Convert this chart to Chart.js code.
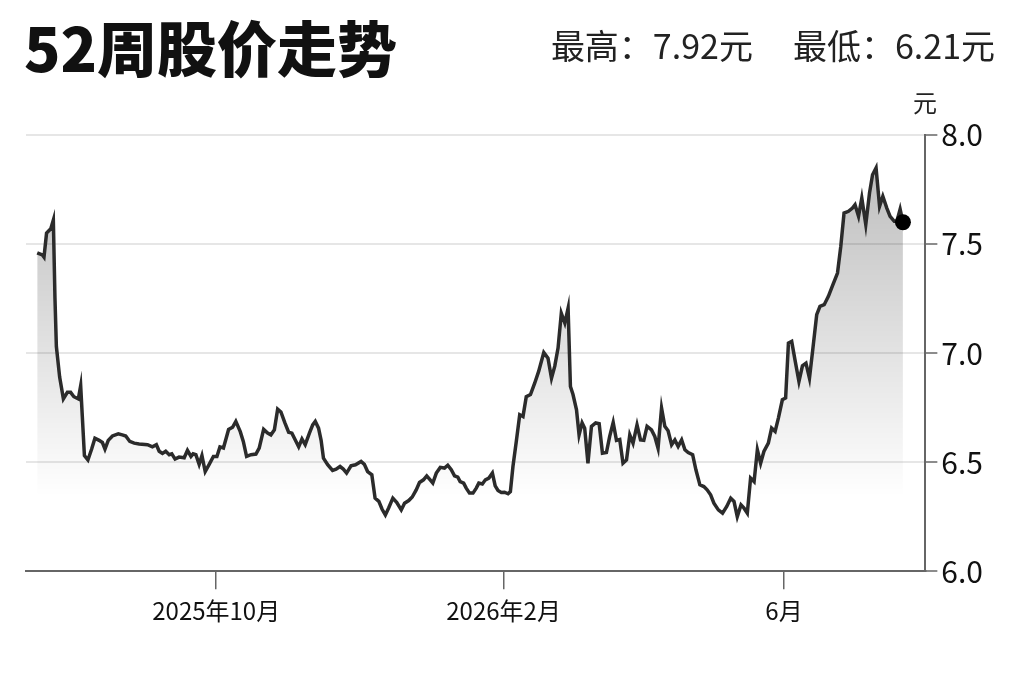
<!DOCTYPE html>
<html>
<head>
<meta charset="utf-8">
<script src="https://cdn.jsdelivr.net/npm/chart.js@4"></script>
<style>
  body { margin: 0; background: #fff; font-family: 'Noto Sans CJK SC', 'Noto Sans', sans-serif; }
  #wrap { position: relative; width: 1023px; height: 682px; }
  #wrap canvas { position: absolute; left: 0; top: 0; }
  .title { position: absolute; left: 24px; top: 16px; font-size: 60px; font-weight: 900; line-height: 1; color: #111; }
  .range { position: absolute; right: 28px; top: 28px; font-size: 34px; line-height: 1; color: #222; white-space: pre; }
  .range span + span { margin-left: 40px; }
  .unit { position: absolute; left: 913px; top: 90px; font-size: 24px; line-height: 1; color: #222; }
</style>
</head>
<body>
<div id="wrap">
  <canvas id="price-chart"></canvas>
  <div class="title">52周股价走势</div>
  <div class="range"><span>最高：7.92元</span><span>最低：6.21元</span></div>
  <div class="unit">元</div>
</div>
<script>
// days counted from 2025-10-01, closing price in 元
const days = [-76.6,-74.4,-73.7,-72.6,-70.8,-69.7,-69.0,-68.4,-67.0,-65.4,-63.7,-62.3,-60.9,-59.0,-58.0,-57.3,-56.4,-54.9,-53.3,-51.9,
  -50.1,-48.7,-47.6,-46.2,-44.4,-41.9,-40.2,-38.7,-37.0,-35.1,-33.0,-29.4,-27.3,-25.6,-24.4,-23.0,-21.6,-20.1,-19.0,-17.6,
  -15.9,-13.7,-12.3,-10.8,-9.9,-8.7,-7.3,-6.1,-4.7,-3.0,-1.2,0.3,1.6,3.1,5.3,7.0,8.4,10.3,11.6,13.0,
  14.9,17.0,18.4,20.3,22.0,23.4,24.9,26.3,27.7,29.4,31.0,32.4,33.9,35.3,36.7,38.1,39.9,41.3,42.4,43.8,
  44.9,45.9,47.7,49.8,51.3,53.0,54.4,55.8,57.7,59.6,62.0,63.4,64.8,66.6,68.0,69.6,71.0,72.4,73.8,75.6,
  77.3,79.2,80.6,82.4,83.9,85.6,87.0,88.7,90.1,91.3,92.7,94.2,95.9,97.7,99.1,100.6,102.0,103.4,104.4,105.9,
  107.0,108.4,109.9,111.3,112.4,113.9,115.2,116.7,118.2,119.4,120.6,122.0,123.4,124.9,125.9,127.0,128.5,129.9,131.3,132.7,
  134.5,136.3,138.0,140.2,142.0,143.5,144.9,146.3,147.7,149.2,150.6,151.6,152.7,154.2,155.3,156.6,157.7,159.1,160.6,162.4,
  163.9,165.3,167.0,168.4,169.9,171.3,172.7,
  174.1,175.6,177.0,178.4,180.1,181.6,183.0,184.4,186.3,187.7,189.1,190.6,192.0,193.4,194.9,196.3,197.7,199.2,200.6,202.0,
  203.9,205.3,207.0,208.7,210.1,211.6,213.0,214.9,216.7,218.5,220.2,221.6,223.0,224.6,225.9,227.3,228.7,230.2,231.6,233.0,
  234.4,236.3,237.7,239.2,240.6,242.3,243.7,244.9,246.3,247.7,249.4,250.9,252.4,253.9,255.3,257.0,258.4,260.2,262.0,263.9,
  265.9,267.3,268.7,270.6,272.3,273.4,274.9,276.3,278.0,279.6,280.9,282.4,283.9,285.3,287.0,288.4,290.2,291.3,292.7,293.9];

const prices = [7.46,7.45,7.44,7.55,7.57,7.61,7.25,7.03,6.89,6.79,6.82,6.82,6.80,6.79,6.85,6.71,6.53,6.51,6.56,6.61,
  6.60,6.59,6.56,6.60,6.62,6.63,6.625,6.62,6.595,6.587,6.583,6.58,6.57,6.58,6.55,6.54,6.55,6.534,6.538,6.514,
  6.523,6.52,6.554,6.526,6.538,6.534,6.49,6.53,6.457,6.49,6.526,6.526,6.57,6.565,6.65,6.66,6.687,6.64,6.595,6.526,
  6.534,6.537,6.564,6.65,6.633,6.625,6.648,6.743,6.73,6.68,6.637,6.633,6.60,6.57,6.606,6.58,6.633,6.671,6.687,6.656,
  6.60,6.518,6.488,6.462,6.468,6.48,6.468,6.45,6.483,6.488,6.503,6.49,6.457,6.442,6.335,6.32,6.284,6.258,6.29,6.335,
  6.315,6.281,6.312,6.324,6.34,6.373,6.407,6.419,6.437,6.422,6.404,6.45,6.476,6.473,6.486,6.465,6.437,6.431,6.411,6.404,
  6.381,6.358,6.358,6.381,6.404,6.40,6.419,6.427,6.45,6.391,6.37,6.361,6.362,6.355,6.365,6.48,6.60,6.717,6.709,6.80,
  6.81,6.862,6.916,7.003,6.977,6.885,6.94,7.023,7.183,7.138,7.206,6.847,6.81,6.74,6.625,6.68,6.656,6.495,6.664,6.68,
  6.676,6.541,6.544,6.618,6.682,6.60,6.604,
  6.495,6.51,6.625,6.587,6.671,6.602,6.60,6.664,6.648,6.618,6.564,6.748,6.664,6.644,6.58,6.602,6.572,6.602,6.557,6.544,
  6.534,6.465,6.396,6.388,6.373,6.35,6.312,6.281,6.266,6.297,6.335,6.32,6.25,6.304,6.289,6.266,6.427,6.411,6.557,6.495,
  6.549,6.587,6.656,6.641,6.702,6.786,6.794,7.046,7.054,6.969,6.87,6.942,6.954,6.885,7.015,7.176,7.214,7.222,7.26,7.313,
  7.367,7.489,7.642,7.65,7.665,7.68,7.627,7.711,7.589,7.734,7.818,7.849,7.673,7.719,7.665,7.627,7.604,7.604,7.66,7.60];

const tickDays = [0, 123, 243];
const tickLabels = ['2025年10月', '2026年2月', '6月'];
const yTicks = [6.0, 6.5, 7.0, 7.5, 8.0];

const font = "'Noto Sans CJK SC', 'Noto Sans', sans-serif";

new Chart(
    document.getElementById('price-chart').getContext('2d'),
    {
        type: 'line',
        data: {
            datasets: [
                {
                    data: days.map((d, i) => ({ x: d, y: prices[i] })),
                    borderColor: '#2b2b2b',
                    borderWidth: 3.5,
                    tension: 0,
                    fill: 'start',
                    backgroundColor: (ctx) => {
                        let area = ctx.chart.chartArea;
                        if (!area) return 'rgba(0,0,0,0.1)';
                        let g = ctx.chart.ctx.createLinearGradient(0, area.top, 0, area.bottom);
                        g.addColorStop(0, 'rgba(0,0,0,0.28)');
                        g.addColorStop(0.83, 'rgba(0,0,0,0)');
                        g.addColorStop(1, 'rgba(0,0,0,0)');
                        return g;
                    },
                    pointRadius: (ctx) => ctx.dataIndex === prices.length - 1 ? 8 : 0,
                    pointBackgroundColor: '#000',
                    pointBorderWidth: 0,
                },
            ],
        },
        options: {
            responsive: true,
            maintainAspectRatio: false,
            animation: false,
            layout: { padding: { left: 26, right: 36, top: 135, bottom: 50 } },
            plugins: { legend: { display: false }, tooltip: { enabled: false } },
            scales: {
                x: {
                    type: 'linear',
                    min: -81.4,
                    max: 303.5,
                    afterBuildTicks: (scale) => {
                        scale.ticks = tickDays.map(v => ({ value: v }));
                    },
                    ticks: {
                        callback: (v) => tickLabels[tickDays.indexOf(v)],
                        font: { family: font, size: 24 },
                        color: '#111',
                        padding: 7,
                        maxRotation: 0,
                        autoSkip: false,
                    },
                    grid: { drawOnChartArea: false, drawTicks: true, tickLength: 18, color: '#666', lineWidth: 1.5 },
                    border: { display: true, color: '#666', width: 2 },
                },
                y: {
                    position: 'right',
                    min: 6,
                    max: 8,
                    afterBuildTicks: (scale) => {
                        scale.ticks = yTicks.map(v => ({ value: v }));
                    },
                    ticks: {
                        callback: (v) => v.toFixed(1),
                        font: { family: font, size: 30 },
                        color: '#111',
                        padding: 4,
                    },
                    grid: { color: '#e6e6e6', lineWidth: 2, tickLength: 12, tickColor: '#666', tickWidth: 1.5 },
                    border: { display: true, color: '#666', width: 2 },
                },
            },
        },
    }
);
</script>
</body>
</html>
